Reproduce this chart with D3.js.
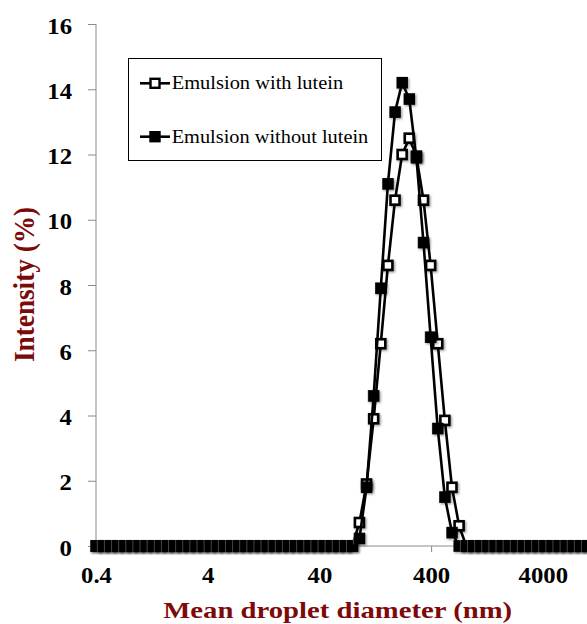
<!DOCTYPE html>
<html>
<head>
<meta charset="utf-8">
<script src="https://cdn.jsdelivr.net/npm/d3@7"></script>
<style>
  html, body { margin: 0; padding: 0; background: #fff; }
  svg { display: block; font-family: "Liberation Serif", "Times New Roman", serif; }
</style>
</head>
<body>
<svg id="chart" width="587" height="624"></svg>
<script>
// ---- data (Zetasizer size classes, nm) ----
const sizes = [0.4, 0.4632, 0.5365, 0.6213, 0.7195, 0.8332, 0.9649, 1.117, 1.294, 1.499,
  1.736, 2.01, 2.328, 2.696, 3.122, 3.615, 4.187, 4.849, 5.615, 6.503,
  7.531, 8.721, 10.1, 11.7, 13.54, 15.69, 18.17, 21.04, 24.36, 28.21,
  32.67, 37.84, 43.82, 50.75, 58.77, 68.06, 78.82, 91.28, 105.7, 122.4,
  141.8, 164.2, 190.1, 220.2, 255, 295.3, 342, 396.1, 458.7, 531.2,
  615.1, 712.4, 825, 955.4, 1106, 1281, 1484, 1718, 1990, 2305,
  2669, 3091, 3580, 4145, 4801, 5560, 6439, 7456, 8635, 10000];

const withLutein = [0, 0, 0, 0, 0, 0, 0, 0, 0, 0,
  0, 0, 0, 0, 0, 0, 0, 0, 0, 0,
  0, 0, 0, 0, 0, 0, 0, 0, 0, 0,
  0, 0, 0, 0, 0, 0, 0, 0.72, 1.9, 3.9,
  6.2, 8.6, 10.6, 12.0, 12.5, 11.95, 10.6, 8.6, 6.2, 3.85,
  1.8, 0.62, 0, 0, 0, 0, 0, 0, 0, 0,
  0, 0, 0, 0, 0, 0, 0, 0, 0, 0];

const withoutLutein = [0, 0, 0, 0, 0, 0, 0, 0, 0, 0,
  0, 0, 0, 0, 0, 0, 0, 0, 0, 0,
  0, 0, 0, 0, 0, 0, 0, 0, 0, 0,
  0, 0, 0, 0, 0, 0, 0, 0.23, 1.8, 4.6,
  7.9, 11.1, 13.3, 14.2, 13.7, 11.9, 9.3, 6.4, 3.6, 1.5,
  0.41, 0, 0, 0, 0, 0, 0, 0, 0, 0,
  0, 0, 0, 0, 0, 0, 0, 0, 0, 0];

const seriesNames = ["Emulsion with lutein", "Emulsion without lutein"];
const xTicks = [0.4, 4, 40, 400, 4000];
const xTickLabels = ["0.4", "4", "40", "400", "4000"];
const yTicks = [0, 2, 4, 6, 8, 10, 12, 14, 16];
const xTitle = "Mean droplet diameter (nm)";
const yTitle = "Intensity (%)";

// ---- layout ----
const svg = d3.select("#chart");
const x = d3.scaleLog().domain([0.4, 10000]).range([96, 96 + 111.7 * Math.log10(10000 / 0.4)]);
const y = d3.scaleLinear().domain([0, 16]).range([546, 24]);
const axisColor = "#8a8a8a";
const titleColor = "#7d0a0a";

const defs = svg.append("defs");
const f = defs.append("filter").attr("id", "shadow")
  .attr("x", "-50%").attr("y", "-50%").attr("width", "200%").attr("height", "200%");
f.append("feDropShadow").attr("dx", 1.3).attr("dy", 1.3).attr("stdDeviation", 1)
  .attr("flood-color", "#000").attr("flood-opacity", 0.4);

function stretch(sel, factor) {
  sel.each(function () {
    const w = this.getComputedTextLength();
    d3.select(this).attr("textLength", w * factor).attr("lengthAdjust", "spacingAndGlyphs");
  });
}

// ---- axes ----
const yAxis = svg.append("g").attr("transform", "translate(96,0)")
  .call(d3.axisLeft(y).tickValues(yTicks).tickSize(8).tickPadding(16).tickFormat(d3.format("d")));
yAxis.select(".domain").attr("stroke", axisColor).attr("d", "M0," + y(16) + "V" + y(0));
yAxis.selectAll(".tick line").attr("stroke", axisColor);
yAxis.selectAll(".tick text")
  .attr("font-family", "Liberation Serif").attr("font-weight", "bold")
  .attr("font-size", 22.5).attr("fill", "#000").attr("dy", "0.4em");
stretch(yAxis.selectAll(".tick text"), 1.1);

const xAxis = svg.append("g").attr("transform", "translate(0,546)")
  .call(d3.axisBottom(x).tickValues(xTicks).tickSize(6).tickPadding(15)
    .tickFormat((d, i) => xTickLabels[i]));
xAxis.select(".domain").attr("stroke", axisColor).attr("d", "M" + x(0.4) + ",0H587");
xAxis.selectAll(".tick line").attr("stroke", axisColor);
xAxis.selectAll(".tick text")
  .attr("font-family", "Liberation Serif").attr("font-weight", "bold")
  .attr("font-size", 22.5).attr("fill", "#000");
stretch(xAxis.selectAll(".tick text"), 1.1);

// ---- titles ----
svg.append("text").attr("x", 337.7).attr("y", 618)
  .attr("text-anchor", "middle").attr("font-weight", "bold").attr("font-size", 23)
  .attr("fill", titleColor).attr("textLength", 349).attr("lengthAdjust", "spacingAndGlyphs")
  .text(xTitle);

svg.append("text")
  .attr("transform", "translate(33.5,284.5) rotate(-90) scale(1,1.1)")
  .attr("text-anchor", "middle").attr("font-weight", "bold").attr("font-size", 27)
  .attr("fill", titleColor).attr("textLength", 155).attr("lengthAdjust", "spacingAndGlyphs")
  .text(yTitle);

// ---- series ----
const M = 9; // marker rect size (before stroke)
const line = d3.line().x(d => x(d.s)).y(d => y(d.v));

function drawSeries(values, filled) {
  const data = sizes.map((s, i) => ({ s, v: values[i] }));
  const g = svg.append("g");
  g.append("path").datum(data).attr("d", line)
    .attr("fill", "none").attr("stroke", "#000").attr("stroke-width", 2.6)
    .attr("stroke-linejoin", "round");
  g.selectAll("rect").data(data).join("rect")
    .attr("x", d => x(d.s) - M / 2).attr("y", d => y(d.v) - M / 2)
    .attr("width", M).attr("height", M)
    .attr("fill", filled ? "#000" : "#fff")
    .attr("stroke", "#000").attr("stroke-width", 2.6)
    .attr("filter", "url(#shadow)");
  if (filled) {
    g.selectAll("line.edge").data(data).join("line").attr("class", "edge")
      .attr("x1", d => x(d.s) - M / 2 - 1.3).attr("x2", d => x(d.s) - M / 2 - 1.3)
      .attr("y1", d => y(d.v) - M / 2 - 1.3).attr("y2", d => y(d.v) + M / 2 + 1.3)
      .attr("stroke", "#fff").attr("stroke-opacity", 0.35).attr("stroke-width", 0.8);
  }
}
drawSeries(withLutein, false);
drawSeries(withoutLutein, true);

// ---- legend ----
const lg = svg.append("g");
lg.append("rect").attr("x", 128.5).attr("y", 58.5).attr("width", 253).attr("height", 102)
  .attr("fill", "#fff").attr("stroke", "#000").attr("stroke-width", 1);
const legendRows = [
  { name: seriesNames[0], filled: false, cy: 83.3, w: 171.6 },
  { name: seriesNames[1], filled: true, cy: 136.7, w: 196.6 }
];
legendRows.forEach(r => {
  lg.append("line").attr("x1", 140).attr("x2", 170).attr("y1", r.cy).attr("y2", r.cy)
    .attr("stroke", "#000").attr("stroke-width", 2.6);
  lg.append("rect").attr("x", 155 - M / 2).attr("y", r.cy - M / 2).attr("width", M).attr("height", M)
    .attr("fill", r.filled ? "#000" : "#fff").attr("stroke", "#000").attr("stroke-width", 2.4);
  lg.append("text").attr("x", 171.7).attr("y", r.cy + 6)
    .attr("font-size", 18.5).attr("fill", "#000")
    .attr("textLength", r.w).attr("lengthAdjust", "spacingAndGlyphs")
    .text(r.name);
});
</script>
</body>
</html>
